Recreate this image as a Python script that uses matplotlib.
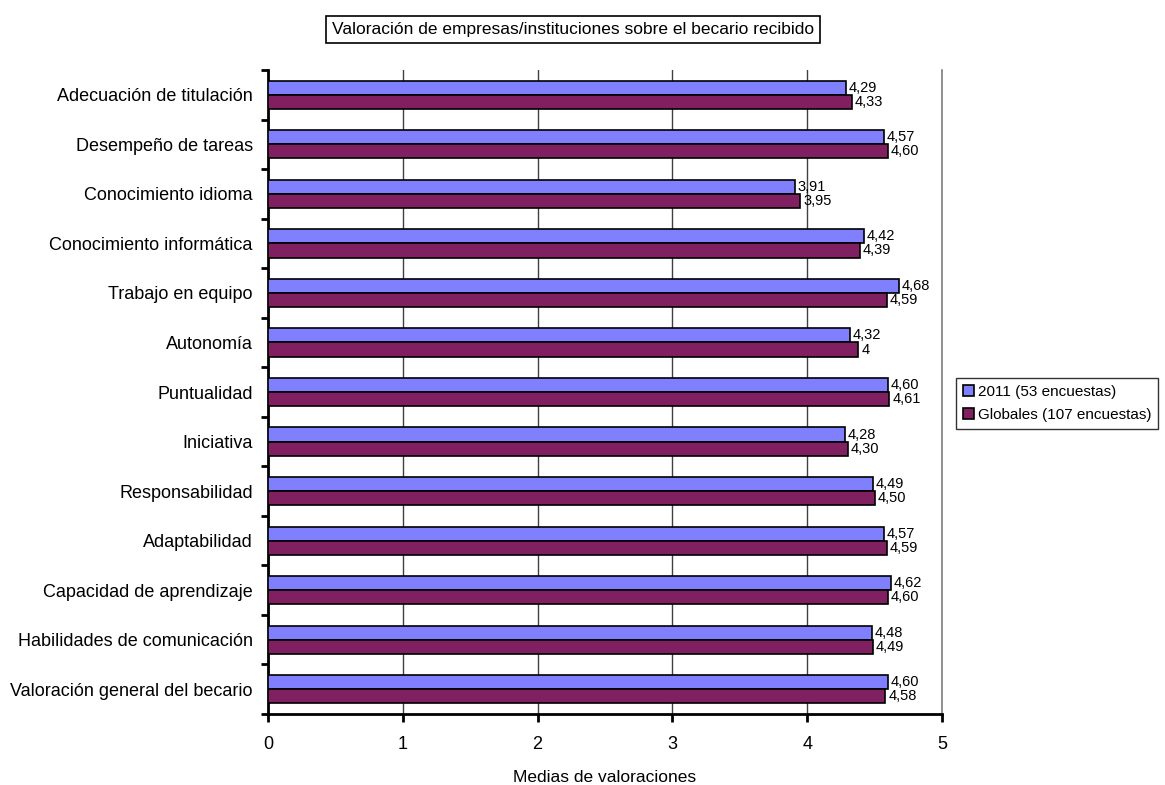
import numpy as np
import matplotlib.pyplot as plt

plt.rcParams['font.family'] = ['Liberation Sans', 'DejaVu Sans']

categorias = ['Adecuación de titulación', 'Desempeño de tareas', 'Conocimiento idioma',
              'Conocimiento informática', 'Trabajo en equipo', 'Autonomía', 'Puntualidad',
              'Iniciativa', 'Responsabilidad', 'Adaptabilidad', 'Capacidad de aprendizaje',
              'Habilidades de comunicación', 'Valoración general del becario']
v2011 = [4.29, 4.57, 3.91, 4.42, 4.68, 4.32, 4.60, 4.28, 4.49, 4.57, 4.62, 4.48, 4.60]
vglob = [4.33, 4.60, 3.95, 4.39, 4.59, 4.38, 4.61, 4.30, 4.50, 4.59, 4.60, 4.49, 4.58]
etiq2011 = ['4,29', '4,57', '3,91', '4,42', '4,68', '4,32', '4,60', '4,28', '4,49', '4,57', '4,62', '4,48', '4,60']
etiqglob = ['4,33', '4,60', '3,95', '4,39', '4,59', '4', '4,61', '4,30', '4,50', '4,59', '4,60', '4,49', '4,58']
series = ['2011 (53 encuestas)', 'Globales (107 encuestas)']

fig = plt.figure(figsize=(11.65, 7.85), dpi=100)
ax = fig.add_axes([0.230, 0.0904, 0.5786, 0.8204])

y = np.arange(len(categorias))
h = 0.285
b1 = ax.barh(y - h / 2, v2011, height=h, color='#8080FF', edgecolor='black', linewidth=1.2,
             label=series[0], zorder=3)
b2 = ax.barh(y + h / 2, vglob, height=h, color='#802060', edgecolor='black', linewidth=1.2,
             label=series[1], zorder=3)
ax.bar_label(b1, labels=etiq2011, padding=2, fontsize=10.5, zorder=4)
ax.bar_label(b2, labels=etiqglob, padding=2, fontsize=10.5, zorder=4)

ax.set_ylim(len(categorias) - 0.5, -0.5)
ax.set_xlim(0, 5)
ax.set_yticks(np.arange(len(categorias) + 1) - 0.5)
ax.set_yticklabels([])
ax.set_yticks(y, minor=True)
ax.set_yticklabels(categorias, minor=True, fontsize=13)
ax.tick_params(axis='y', which='minor', length=0, pad=11)
ax.tick_params(axis='y', which='major', length=5, width=2, direction='out')
ax.set_xticks(range(6))
ax.tick_params(axis='x', length=6, width=2, labelsize=13, pad=10)
ax.set_xlabel('Medias de valoraciones', fontsize=12.5, labelpad=12)

ax.grid(axis='x', color='#404040', linewidth=1, zorder=0)
ax.spines['top'].set_visible(False)
ax.spines['right'].set_color('#808080')
ax.spines['right'].set_linewidth(1.2)
ax.spines['left'].set_linewidth(2)
ax.spines['bottom'].set_linewidth(2)

fig.text(0.492, 0.962, 'Valoración de empresas/instituciones sobre el becario recibido',
         ha='center', va='center', fontsize=12.5,
         bbox=dict(boxstyle='square,pad=0.35', facecolor='white', edgecolor='black', linewidth=1.2))

leg = fig.legend(loc='center left', bbox_to_anchor=(0.814, 0.486), fontsize=11,
                 frameon=True, fancybox=False, edgecolor='black', handlelength=0.7,
                 handleheight=0.7, handletextpad=0.3, borderpad=0.45, labelspacing=0.6)
leg.get_frame().set_linewidth(1.0)

plt.savefig('out.png', dpi=100)
